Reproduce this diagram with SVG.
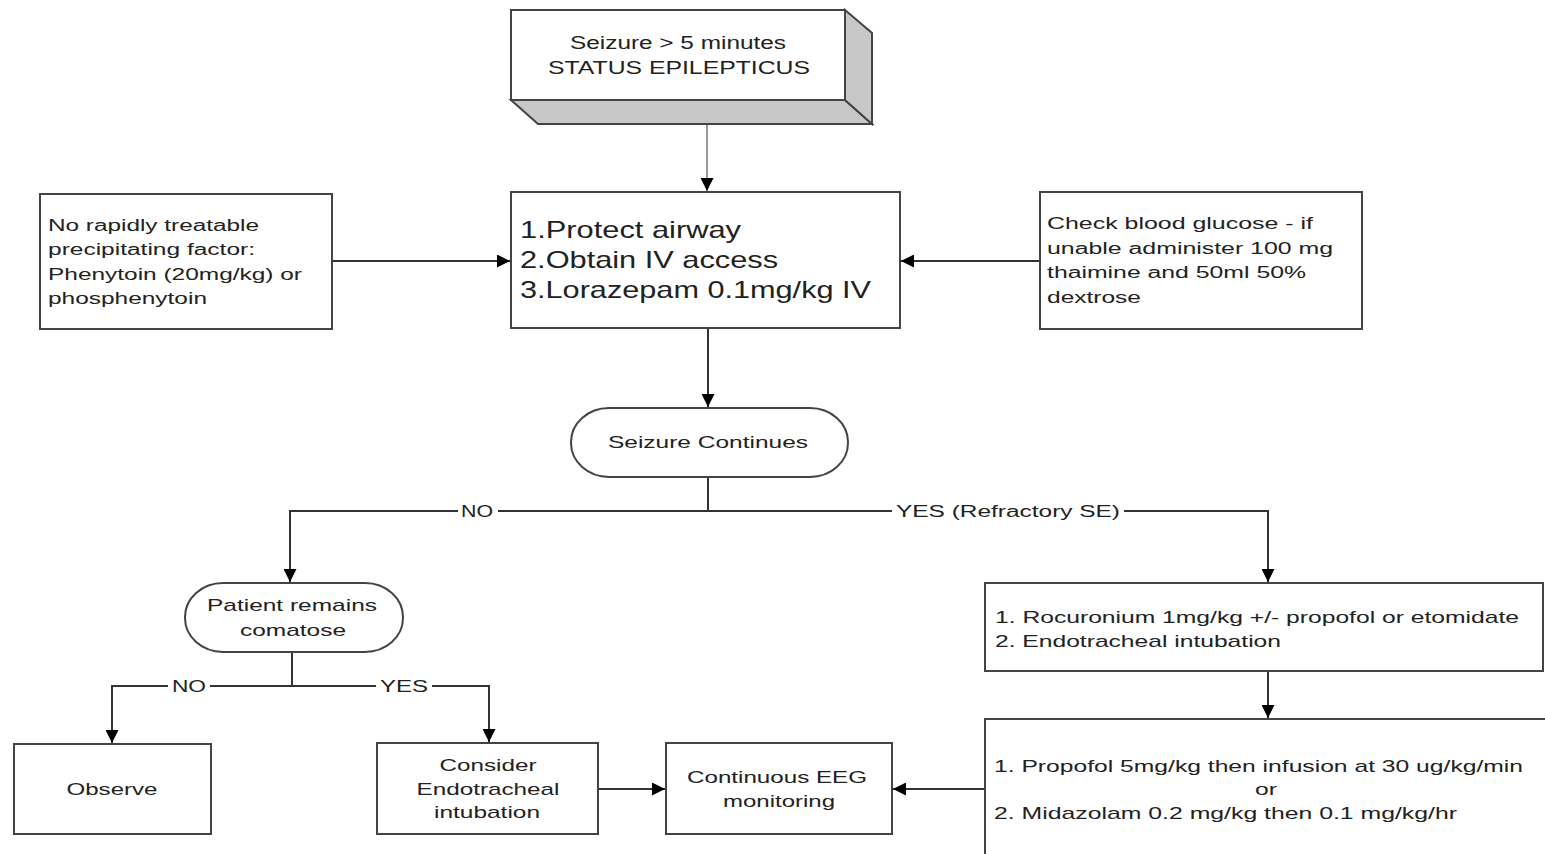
<svg xmlns="http://www.w3.org/2000/svg" width="1545" height="854" viewBox="0 0 1545 854">
<style>
.box{fill:#fff;stroke:#444;stroke-width:2}
.t{font-family:"Liberation Sans",Arial,sans-serif;fill:#222}
.c{text-anchor:middle}
.ln{fill:none;stroke:#333;stroke-width:2}
.lg{fill:none;stroke:#999;stroke-width:2}
.lbl{font-family:"Liberation Sans",Arial,sans-serif;fill:#222;font-size:16px}
</style>
<defs>
<marker id="ah" viewBox="0 0 10 10" refX="10" refY="5" markerWidth="6.5" markerHeight="6.5" orient="auto" markerUnits="strokeWidth">
<path d="M0,0 L10,5 L0,10 z" fill="#000"/>
</marker>
</defs>
<rect width="1545" height="854" fill="#fff"/>

<g id="connectors">
<line class="lg" x1="707" y1="124" x2="707" y2="191" marker-end="url(#ah)"/>
<line class="ln" x1="332" y1="261" x2="510" y2="261" marker-end="url(#ah)"/>
<line class="ln" x1="1040" y1="261" x2="901" y2="261" marker-end="url(#ah)"/>
<line class="ln" x1="708" y1="328" x2="708" y2="407" marker-end="url(#ah)"/>
<line class="ln" x1="708" y1="477" x2="708" y2="511"/>
<polyline class="ln" points="708,511 290,511 290,582" marker-end="url(#ah)"/>
<polyline class="ln" points="708,511 1268,511 1268,582" marker-end="url(#ah)"/>
<rect x="458" y="502" width="40" height="18" fill="#fff"/>
<text class="lbl c" x="477" y="517" textLength="32" lengthAdjust="spacingAndGlyphs">NO</text>
<rect x="892" y="502" width="232" height="18" fill="#fff"/>
<text class="lbl c" x="1008" y="517" textLength="224" lengthAdjust="spacingAndGlyphs">YES (Refractory SE)</text>
<line class="ln" x1="292" y1="652" x2="292" y2="686"/>
<polyline class="ln" points="292,686 112,686 112,743" marker-end="url(#ah)"/>
<polyline class="ln" points="292,686 489,686 489,742" marker-end="url(#ah)"/>
<rect x="168" y="677" width="42" height="18" fill="#fff"/>
<text class="lbl c" x="189" y="692" textLength="34" lengthAdjust="spacingAndGlyphs">NO</text>
<rect x="376" y="677" width="56" height="18" fill="#fff"/>
<text class="lbl c" x="404" y="692" textLength="48" lengthAdjust="spacingAndGlyphs">YES</text>
<line class="ln" x1="598" y1="789" x2="665" y2="789" marker-end="url(#ah)"/>
<line class="ln" x1="985" y1="789" x2="893" y2="789" marker-end="url(#ah)"/>
<line class="ln" x1="1268" y1="671" x2="1268" y2="718" marker-end="url(#ah)"/>
</g>

<g id="status">
<polygon points="511,100 845,100 872,124 538,124" fill="#c8c8c8" stroke="#444" stroke-width="2"/>
<polygon points="845,10 872,33 872,124 845,100" fill="#c8c8c8" stroke="#444" stroke-width="2"/>
<rect class="box" x="511" y="10" width="334" height="90"/>
<text class="t c" x="678" y="49" font-size="18" textLength="216" lengthAdjust="spacingAndGlyphs">Seizure &gt; 5 minutes</text>
<text class="t c" x="679" y="74" font-size="18" textLength="262" lengthAdjust="spacingAndGlyphs">STATUS EPILEPTICUS</text>
</g>

<g id="protect">
<rect class="box" x="511" y="192" width="389" height="136"/>
<text class="t" x="520" y="238" font-size="24" textLength="221" lengthAdjust="spacingAndGlyphs">1.Protect airway</text>
<text class="t" x="520" y="268" font-size="24" textLength="258" lengthAdjust="spacingAndGlyphs">2.Obtain IV access</text>
<text class="t" x="520" y="298" font-size="24" textLength="351" lengthAdjust="spacingAndGlyphs">3.Lorazepam 0.1mg/kg IV</text>
</g>

<g id="phenytoin">
<rect class="box" x="40" y="194" width="292" height="135"/>
<text class="t" x="48" y="231" font-size="16" textLength="211" lengthAdjust="spacingAndGlyphs">No rapidly treatable</text>
<text class="t" x="48" y="255" font-size="16" textLength="207" lengthAdjust="spacingAndGlyphs">precipitating factor:</text>
<text class="t" x="48" y="280" font-size="16" textLength="254" lengthAdjust="spacingAndGlyphs">Phenytoin (20mg/kg) or</text>
<text class="t" x="48" y="304" font-size="16" textLength="159" lengthAdjust="spacingAndGlyphs">phosphenytoin</text>
</g>

<g id="glucose">
<rect class="box" x="1040" y="192" width="322" height="137"/>
<text class="t" x="1047" y="229" font-size="16" textLength="266" lengthAdjust="spacingAndGlyphs">Check blood glucose - if</text>
<text class="t" x="1047" y="254" font-size="16" textLength="286" lengthAdjust="spacingAndGlyphs">unable administer 100 mg</text>
<text class="t" x="1047" y="278" font-size="16" textLength="259" lengthAdjust="spacingAndGlyphs">thaimine and 50ml 50%</text>
<text class="t" x="1047" y="303" font-size="16" textLength="94" lengthAdjust="spacingAndGlyphs">dextrose</text>
</g>

<g id="seizure-continues">
<rect class="box" x="571" y="408" width="277" height="69" rx="38" ry="34"/>
<text class="t c" x="708" y="448" font-size="17" textLength="200" lengthAdjust="spacingAndGlyphs">Seizure Continues</text>
</g>

<g id="comatose">
<rect class="box" x="185" y="583" width="218" height="69" rx="38" ry="34"/>
<text class="t c" x="292" y="611" font-size="17" textLength="170" lengthAdjust="spacingAndGlyphs">Patient remains</text>
<text class="t c" x="293" y="636" font-size="17" textLength="106" lengthAdjust="spacingAndGlyphs">comatose</text>
</g>

<g id="observe">
<rect class="box" x="14" y="744" width="197" height="90"/>
<text class="t c" x="112" y="795" font-size="17" textLength="91" lengthAdjust="spacingAndGlyphs">Observe</text>
</g>

<g id="consider">
<rect class="box" x="377" y="743" width="221" height="91"/>
<text class="t c" x="488" y="771" font-size="17" textLength="97" lengthAdjust="spacingAndGlyphs">Consider</text>
<text class="t c" x="488" y="795" font-size="17" textLength="143" lengthAdjust="spacingAndGlyphs">Endotracheal</text>
<text class="t c" x="487" y="818" font-size="17" textLength="106" lengthAdjust="spacingAndGlyphs">intubation</text>
</g>

<g id="eeg">
<rect class="box" x="666" y="743" width="226" height="91"/>
<text class="t c" x="777" y="783" font-size="17" textLength="180" lengthAdjust="spacingAndGlyphs">Continuous EEG</text>
<text class="t c" x="779" y="807" font-size="17" textLength="112" lengthAdjust="spacingAndGlyphs">monitoring</text>
</g>

<g id="rocuronium">
<rect class="box" x="985" y="583" width="558" height="88"/>
<text class="t" x="995" y="623" font-size="17" textLength="524" lengthAdjust="spacingAndGlyphs">1. Rocuronium 1mg/kg +/- propofol or etomidate</text>
<text class="t" x="995" y="647" font-size="17" textLength="286" lengthAdjust="spacingAndGlyphs">2. Endotracheal intubation</text>
</g>

<g id="propofol">
<rect class="box" x="985" y="719" width="580" height="160"/>
<text class="t" x="994" y="772" font-size="17" textLength="529" lengthAdjust="spacingAndGlyphs">1. Propofol 5mg/kg then infusion at 30 ug/kg/min</text>
<text class="t c" x="1266" y="795" font-size="17" textLength="22" lengthAdjust="spacingAndGlyphs">or</text>
<text class="t" x="994" y="819" font-size="17" textLength="463" lengthAdjust="spacingAndGlyphs">2. Midazolam 0.2 mg/kg then 0.1 mg/kg/hr</text>
</g>
</svg>
